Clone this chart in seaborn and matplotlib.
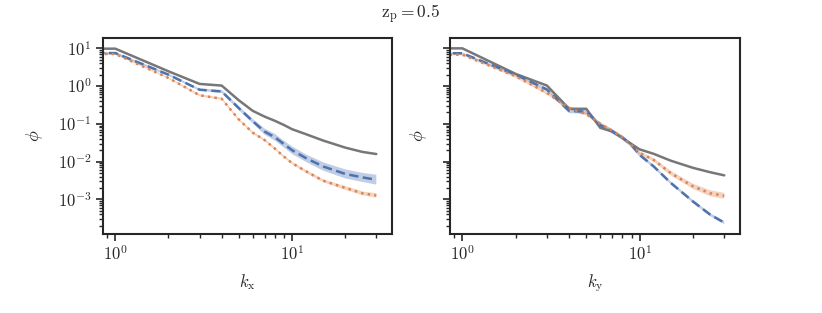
import numpy as np
import pandas as pd
import matplotlib
matplotlib.use('Agg')
import matplotlib.pyplot as plt
import matplotlib.ticker as mticker
import seaborn as sns

# Dados (k = 0 some do eixo log e vira o trecho plano a esquerda)
k = [0, 1, 2, 3, 4, 5, 6, 7, 8, 9, 10, 12, 15, 20, 25, 30]

# painel k_x
cinza_x = [9.8, 9.8, 2.46, 1.14, 1.03, 0.42, 0.22, 0.155, 0.12, 0.093, 0.072, 0.053, 0.036, 0.0234, 0.018, 0.0158]
azul_x = [7.5, 7.5, 2.0, 0.80, 0.72, 0.26, 0.117, 0.062, 0.044, 0.029, 0.020, 0.0123, 0.0074, 0.0047, 0.0038, 0.0033]
laranja_x = [7.1, 7.1, 1.64, 0.57, 0.46, 0.13, 0.058, 0.037, 0.022, 0.0135, 0.0091, 0.0055, 0.0031, 0.0020, 0.00144, 0.00126]
faixa_azul_x = [0.03, 0.03, 0.03, 0.03, 0.04, 0.05, 0.06, 0.08, 0.09, 0.09, 0.10, 0.10, 0.11, 0.12, 0.12, 0.13]
faixa_laranja_x = [0.02, 0.02, 0.02, 0.03, 0.03, 0.03, 0.03, 0.03, 0.03, 0.03, 0.03, 0.04, 0.04, 0.05, 0.05, 0.06]

# painel k_y
cinza_y = [10.0, 10.0, 2.1, 1.03, 0.25, 0.25, 0.078, 0.063, 0.042, 0.029, 0.021, 0.016, 0.0105, 0.0068, 0.0052, 0.0043]
azul_y = [7.4, 7.4, 2.0, 0.81, 0.22, 0.21, 0.092, 0.063, 0.043, 0.027, 0.015, 0.0074, 0.0027, 0.00087, 0.00039, 0.00024]
laranja_y = [6.8, 6.8, 1.82, 0.66, 0.26, 0.18, 0.10, 0.066, 0.043, 0.027, 0.017, 0.011, 0.0049, 0.0022, 0.00144, 0.00123]
faixa_azul_y = [0.02, 0.02, 0.03, 0.04, 0.06, 0.06, 0.06, 0.06, 0.06, 0.06, 0.05, 0.04, 0.04, 0.04, 0.04, 0.04]
faixa_laranja_y = [0.02, 0.02, 0.04, 0.05, 0.05, 0.04, 0.04, 0.04, 0.04, 0.04, 0.04, 0.05, 0.06, 0.07, 0.08, 0.08]

series = ['cinza', 'azul', 'laranja']
cores = {'cinza': '#777777', 'azul': '#4c72b0', 'laranja': '#dd8452'}
tracos = {'cinza': '', 'azul': (3.7, 1.8), 'laranja': (1, 1.65)}

sns.set_theme(style='ticks', rc={
    'axes.linewidth': 1.5,
    'axes.edgecolor': '#262626',
    'xtick.major.size': 4.8, 'ytick.major.size': 4.8,
    'xtick.minor.size': 2.6, 'ytick.minor.size': 2.6,
    'xtick.major.width': 1.2, 'ytick.major.width': 1.2,
    'xtick.minor.width': 1.0, 'ytick.minor.width': 1.0,
})
plt.rcParams['font.family'] = ['serif']
plt.rcParams['font.serif'] = ['DejaVu Serif']
plt.rcParams['mathtext.fontset'] = 'cm'
plt.rcParams['font.size'] = 10


def monta_tabela(cinza, azul, laranja):
    linhas = []
    for nome, vals in zip(series, [cinza, azul, laranja]):
        for kk, v in zip(k, vals):
            linhas.append({'k': kk, 'phi': v, 'serie': nome})
    return pd.DataFrame(linhas)


# rotulos 10^n em Computer Modern (sem \mathdefault)
def potencia_dez(v, pos):
    if v <= 0:
        return ''
    e = np.log10(v)
    if abs(e - round(e)) > 1e-6:
        return ''
    return r'$10^{%d}$' % round(e)


fig = plt.figure(figsize=(8.22, 3.13), dpi=100)
ax1 = fig.add_axes([103 / 822, 79 / 313, 289 / 822, 196 / 313])
ax2 = fig.add_axes([450 / 822, 79 / 313, 290 / 822, 196 / 313], sharey=ax1)

paineis = [
    (ax1, (cinza_x, azul_x, laranja_x), faixa_azul_x, faixa_laranja_x, r'$k_\mathrm{x}$'),
    (ax2, (cinza_y, azul_y, laranja_y), faixa_azul_y, faixa_laranja_y, r'$k_\mathrm{y}$'),
]

for ax, vals, fa, fl, rotulo in paineis:
    ax.set_xscale('log')
    ax.set_yscale('log')
    df = monta_tabela(*vals)
    # faixas de incerteza
    for nome, media, faixa in [('azul', vals[1], fa), ('laranja', vals[2], fl)]:
        m = np.array(media)
        s = np.array(faixa)
        ax.fill_between(k, m / 10**s, m * 10**s, color=cores[nome], alpha=0.35, lw=0)
    sns.lineplot(data=df, x='k', y='phi', hue='serie', style='serie',
                 palette=cores, dashes=tracos, hue_order=series, style_order=series,
                 lw=1.8, legend=False, ax=ax)
    ax.set_xlim(0.852, 36.8)
    ax.set_ylim(1.2e-4, 18.8)
    ax.xaxis.set_major_formatter(mticker.FuncFormatter(potencia_dez))
    ax.yaxis.set_major_formatter(mticker.FuncFormatter(potencia_dez))
    ax.xaxis.set_minor_formatter(mticker.NullFormatter())
    ax.yaxis.set_minor_formatter(mticker.NullFormatter())
    ax.set_xlabel(rotulo, fontsize=12, labelpad=6)
    ax.set_ylabel(r'$\phi$', fontsize=13, labelpad=9)
    ax.tick_params(labelsize=12)

plt.setp(ax2.get_yticklabels(), visible=False)

fig.suptitle(r'$\mathrm{z}_\mathrm{p} = 0.5$', y=1 - 14 / 313, va='center', fontsize=12.5)

fig.savefig('out.png', dpi=100)
